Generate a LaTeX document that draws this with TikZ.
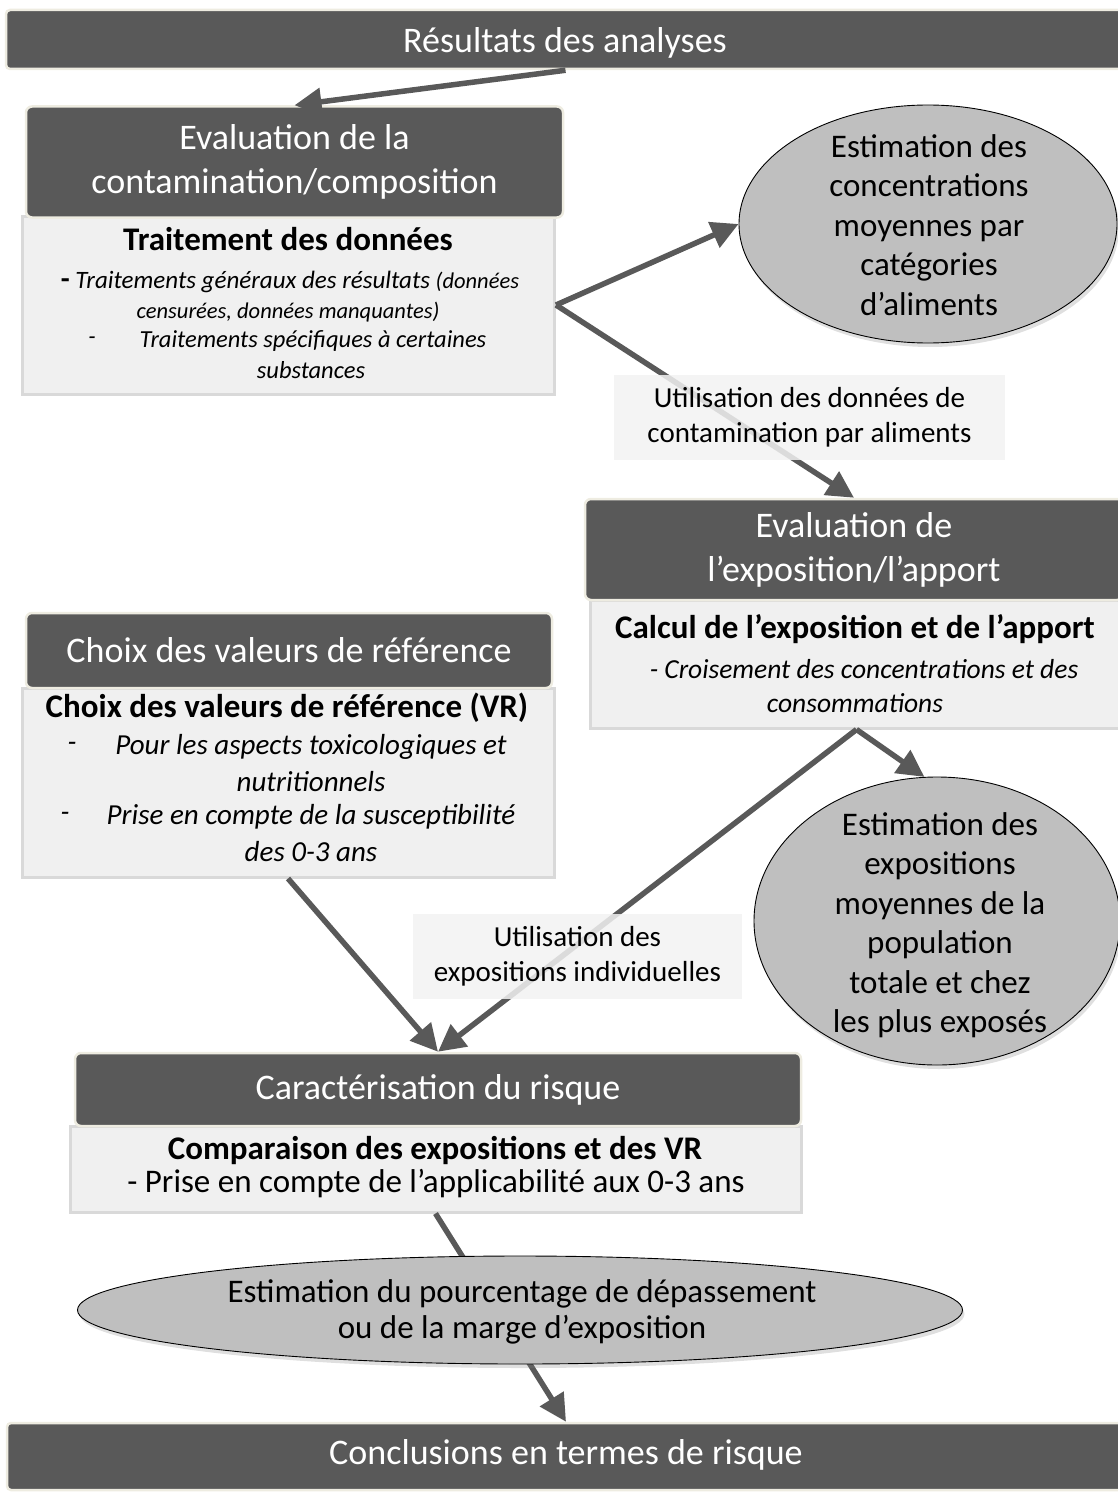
\documentclass[tikz,border=0pt]{standalone}
\usepackage{fontspec}
\setmainfont{Carlito}
\usetikzlibrary{arrows.meta,shapes.geometric,shadows}
\definecolor{dk}{HTML}{595959}
\definecolor{cream}{HTML}{EEECE1}
\definecolor{bodyf}{HTML}{F0F0F0}
\definecolor{bodyd}{HTML}{D9D9D9}
\definecolor{ellf}{HTML}{BFBFBF}
\definecolor{labf}{HTML}{F2F2F2}
\begin{document}
\begin{tikzpicture}[x=1pt,y=-1pt,
  hdr/.style={fill=dk, draw=cream, line width=2.5pt, rounded corners=6pt, text=white, inner sep=0pt, align=center, font=\fontsize{36}{44}\selectfont},
  bar/.style={fill=dk, draw=cream, line width=2.5pt, rounded corners=4pt, text=white, inner sep=0pt, font=\fontsize{36}{44}\selectfont},
  bodybox/.style={fill=bodyf, draw=bodyd, line width=3pt, inner sep=0pt},
  ell/.style={ellipse, fill=ellf, draw=black, line width=0.9pt, inner sep=0pt, drop shadow={opacity=0.25, shadow xshift=2pt, shadow yshift=-4pt}},
  etxt/.style={inner sep=0pt, align=center, font=\fontsize{33}{39.5}\selectfont},
  lab/.style={fill=labf, fill opacity=0.85, text opacity=1, inner sep=0pt, align=center, font=\fontsize{29}{34.5}\selectfont},
  arr/.style={draw=dk, line width=5.5pt, -{Triangle[length=27pt,width=27pt]}},
  txt/.style={inner sep=0pt, text=black},
  bt/.style={txt, font=\bfseries\fontsize{33}{38}\selectfont},
  it/.style={txt, font=\itshape\fontsize{#1}{#1}\selectfont},
]
\useasboundingbox (0,0) rectangle (1118,1493);

% top bar
\node[bar, minimum width=1119, minimum height=59] (top) at (565.5,39.5) {};
\node[txt, text=white, font=\fontsize{36}{44}\selectfont] (toptxt) at (565,43) {Résultats des analyses};

% box 1
\node[bodybox, minimum width=532, minimum height=178] (b1) at (288.5,305) {};
\node[hdr, minimum width=537, minimum height=111] (h1) at (294.5,162) {Evaluation de la\\contamination/composition};
\node[bt] (t1a) at (288,239) {Traitement des données};
\node[it=25] (t1b) at (290,282) {{\upshape\bfseries\fontsize{29}{29}\selectfont -} Traitements généraux des résultats {\fontsize{22.5}{22.5}\selectfont (données}};
\node[it=22.5] (t1c) at (288,312) {censurées, données manquantes)};
\node[it=24] (t1d) at (92,341) {-};
\node[it=24.5] (t1e) at (313,341) {Traitements spécifiques à certaines};
\node[it=24.5] (t1f) at (311,370) {substances};

% box 2
\node[bodybox, minimum width=533, minimum height=128] (b2) at (856.5,664) {};
\node[hdr, minimum width=538, minimum height=101] (h2) at (854,549.5) {Evaluation de\\l’exposition/l’apport};
\node[bt] (t2a) at (855,629) {Calcul de l’exposition et de l’apport};
\node[it=27.5] (t2b) at (864,669) {- Croisement des concentrations et des};
\node[it=27.5] (t2c) at (855,703) {consommations};

% box 3
\node[bodybox, minimum width=532, minimum height=189] (b3) at (288,782.5) {};
\node[hdr, minimum width=526, minimum height=75] (h3) at (289,650.5) {Choix des valeurs de référence};
\node[bt] (t3a) at (287,708) {Choix des valeurs de référence (VR)};
\node[it=29] (t3b) at (72,747) {-};
\node[it=29] (t3c) at (311,747) {Pour les aspects toxicologiques et};
\node[it=29] (t3d) at (311,782) {nutritionnels};
\node[it=29] (t3e) at (65,817) {-};
\node[it=29] (t3f) at (311,817) {Prise en compte de la susceptibilité};
\node[it=29] (t3g) at (311,852) {des 0-3 ans};

% box 4
\node[bodybox, minimum width=731, minimum height=86] (b4) at (435.5,1169) {};
\node[hdr, minimum width=726, minimum height=73] (h4) at (438,1089.5) {Caractérisation du risque};
\node[bt] (t4a) at (435,1150) {Comparaison des expositions et des VR};
\node[txt, font=\fontsize{33}{33}\selectfont] (t4b) at (436,1184) {- Prise en compte de l’applicabilité aux 0-3 ans};

% bottom bar
\node[bar, minimum width=1118, minimum height=67] (bot) at (566,1456.5) {};
\node[txt, text=white, font=\fontsize{36}{44}\selectfont] (bottxt) at (566,1455) {Conclusions en termes de risque};

% ellipses 1 and 2
\node[ell, minimum width=378, minimum height=238] (e1) at (928,224) {};
\node[etxt] (e1t) at (929,225) {Estimation des\\concentrations\\moyennes par\\catégories\\d’aliments};
\node[ell, minimum width=366, minimum height=288] (e2) at (937,921) {};
\node[etxt] (e2t) at (940,925) {Estimation des\\expositions\\moyennes de la\\population\\totale et chez\\les plus exposés};

% connectors
\draw[arr] (top.south) -- (h1.north);
\draw[arr] (b1.east) -- (e1.west);
\draw[arr] (b1.east) -- (h2.north);
\draw[arr] (b2.south) -- (e2.95);
\draw[arr] (b2.south) -- (h4.north);
\draw[arr] (b3.south) -- (h4.north);
\draw[arr] (b4.south) -- (bot.north);

% ellipse 3 (over the line)
\node[ell, minimum width=885, minimum height=108] (e3) at (520,1310) {};
\node[etxt, font=\fontsize{33}{36}\selectfont] (e3t) at (522,1312) {Estimation du pourcentage de dépassement\\ou de la marge d’exposition};

% labels
\node[lab, minimum width=391, minimum height=85] (l1) at (809.5,417.5) {Utilisation des données de\\contamination par aliments};
\node[lab, minimum width=329, minimum height=85] (l2) at (577.5,956.5) {Utilisation des\\expositions individuelles};
\end{tikzpicture}
\end{document}
